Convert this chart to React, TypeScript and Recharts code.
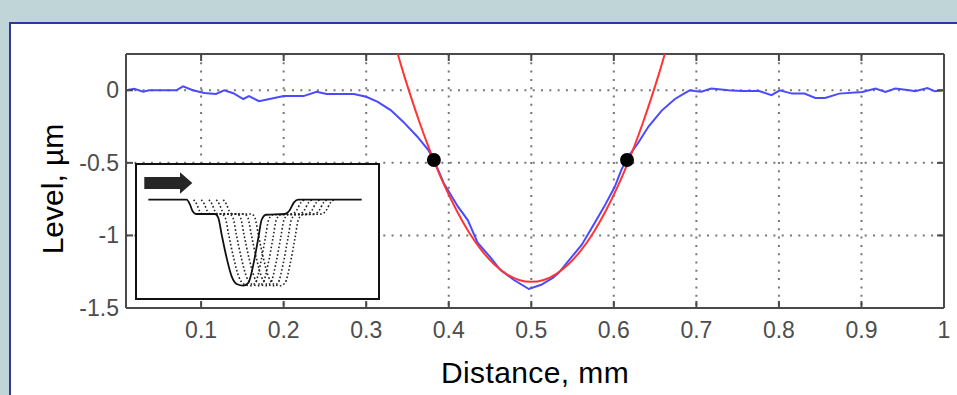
import React from "react";
import { ComposedChart, Line, Scatter, XAxis, YAxis, CartesianGrid, ReferenceLine, Label } from "recharts";

// measured surface profile (blue)
const profileDistance = [
  0.009, 0.019, 0.03, 0.037, 0.07, 0.078, 0.09, 0.104, 0.118, 0.128, 0.139, 0.151, 0.158, 0.17, 0.183,
  0.2, 0.224, 0.24, 0.252, 0.285, 0.3, 0.314, 0.33, 0.345, 0.362, 0.375, 0.382, 0.394, 0.411, 0.423,
  0.435, 0.451, 0.463, 0.479, 0.497, 0.512, 0.526, 0.533, 0.548, 0.561, 0.573, 0.588, 0.601, 0.609,
  0.617, 0.629, 0.642, 0.658, 0.674, 0.686, 0.692, 0.698, 0.706, 0.718, 0.739, 0.755, 0.776, 0.791,
  0.801, 0.816, 0.831, 0.844, 0.856, 0.873, 0.901, 0.917, 0.929, 0.941, 0.958, 0.965, 0.98, 0.989, 1.0,
];
const profileLevel = [
  0.0, 0.01, -0.01, 0.0, 0.0, 0.027, 0.0, -0.018, -0.025, 0.0, -0.02, -0.06, -0.04, -0.075, -0.06,
  -0.04, -0.04, -0.01, -0.025, -0.025, -0.045, -0.08, -0.138, -0.218, -0.32, -0.41, -0.48, -0.64, -0.8, -0.894,
  -1.05, -1.155, -1.24, -1.307, -1.369, -1.34, -1.293, -1.26, -1.155, -1.066, -0.95, -0.805, -0.667, -0.55,
  -0.46, -0.367, -0.25, -0.14, -0.06, -0.02, 0.0, -0.005, -0.01, 0.012, 0.0, -0.005, -0.005, -0.034,
  0.0, -0.023, -0.023, -0.053, -0.053, -0.023, -0.012, 0.012, -0.012, 0.012, 0.0, -0.007, 0.016, -0.007, 0.0,
];

// parabolic fit (red)
const fitDistance = [
  0.336, 0.345, 0.355, 0.365, 0.375, 0.385, 0.395, 0.41, 0.425, 0.44, 0.455, 0.47, 0.485, 0.5,
  0.515, 0.53, 0.545, 0.56, 0.575, 0.59, 0.605, 0.615, 0.625, 0.635, 0.645, 0.655, 0.664,
];
const fitLevel = [
  0.294, 0.12, -0.059, -0.227, -0.383, -0.527, -0.659, -0.834, -0.983, -1.104, -1.199, -1.266, -1.307, -1.32,
  -1.307, -1.266, -1.199, -1.104, -0.983, -0.834, -0.659, -0.527, -0.383, -0.227, -0.059, 0.12, 0.294,
];

// half-depth markers
const markerDistance = [0.382, 0.616];
const markerLevel = [-0.48, -0.48];

const xTicks = [0.1, 0.2, 0.3, 0.4, 0.5, 0.6, 0.7, 0.8, 0.9, 1];
const yTicks = [0, -0.5, -1, -1.5];

// inset sketch: one tool pass, then the same shape shifted along
const insetU = [40, 155, 165, 173, 183, 240, 250, 260, 275, 290, 305, 325, 340, 355, 370, 380, 393, 450, 463, 477, 490, 680];
const insetV = [0, 0, -0.35, -0.81, -1, -1, -1.28, -2.44, -4.07, -5.35, -5.88, -6, -5.81, -4.53, -2.67, -1.4, -1.05, -1, -0.77, -0.19, 0, 0];
const insetShifts = [21, 44, 67, 89, 110];

const profileData = profileDistance.map((x, i) => ({ x, y: profileLevel[i] }));
const fitData = fitDistance.map((x, i) => ({ x, y: fitLevel[i] }));
const markerData = markerDistance.map((x, i) => ({ x, y: markerLevel[i] }));
const insetSolid = insetU.map((u, i) => ({ u, v: insetV[i] }));
const insetDotted = insetShifts.map((s) =>
  insetU.slice(1, 21).map((u, i) => ({ u: u + s, v: insetV[i + 1] }))
);

const FONT = '"Liberation Sans", Arial, Helvetica, sans-serif';
const PLOT_TOP = 54;
const PLOT_BOTTOM = 308;
const PLOT_LEFT = 126;
const PLOT_RIGHT = 944;
const TICK_LEN = 7;
const AXIS_COLOR = "#4a4a4a";

const XTick = (props: any) => {
  const { x, payload } = props;
  return (
    <g>
      <line x1={x} x2={x} y1={PLOT_BOTTOM} y2={PLOT_BOTTOM - TICK_LEN} stroke={AXIS_COLOR} strokeWidth={2} />
      <line x1={x} x2={x} y1={PLOT_TOP} y2={PLOT_TOP + TICK_LEN} stroke={AXIS_COLOR} strokeWidth={2} />
      <text x={x} y={338} textAnchor="middle" fontSize={23} fill="#4d4d4d" fontFamily={FONT}>
        {String(payload.value)}
      </text>
    </g>
  );
};

const YTick = (props: any) => {
  const { y, payload } = props;
  return (
    <g>
      <line x1={PLOT_LEFT} x2={PLOT_LEFT + TICK_LEN} y1={y} y2={y} stroke={AXIS_COLOR} strokeWidth={2} />
      <line x1={PLOT_RIGHT} x2={PLOT_RIGHT - TICK_LEN} y1={y} y2={y} stroke={AXIS_COLOR} strokeWidth={2} />
      <text x={119} y={y + 8} textAnchor="end" fontSize={23} fill="#4d4d4d" fontFamily={FONT}>
        {String(payload.value)}
      </text>
    </g>
  );
};

const Marker = (props: any) => <circle cx={props.cx} cy={props.cy} r={7} fill="#000" />;

export default function App() {
  return (
    <div style={{ position: "absolute", left: 0, top: 0, width: 957, height: 395, background: "#bfd5d7", overflow: "hidden", fontFamily: FONT }}>
      <div
        style={{
          position: "absolute", left: 9, top: 22, right: 0, bottom: 0, background: "#fff",
          borderTop: "2px solid #34349c", borderLeft: "2px solid #34349c", boxSizing: "border-box",
        }}
      />
      <div style={{ position: "absolute", left: 0, top: 0 }}>
        <ComposedChart width={957} height={395} margin={{ top: PLOT_TOP, right: 957 - PLOT_RIGHT, bottom: 0, left: 0 }}>
          <CartesianGrid stroke="#777" strokeWidth={2} strokeDasharray="2 6.3" />
          <XAxis
            type="number"
            dataKey="x"
            domain={[0.009, 1]}
            ticks={xTicks}
            interval={0}
            allowDataOverflow
            height={395 - PLOT_BOTTOM}
            tickLine={false}
            axisLine={{ stroke: AXIS_COLOR, strokeWidth: 2 }}
            tick={<XTick />}
          >
            <Label value="Distance, mm" position="insideBottom" offset={12} fontSize={30} fill="#000" fontFamily={FONT} letterSpacing={0.4} />
          </XAxis>
          <YAxis
            type="number"
            dataKey="y"
            domain={[-1.5, 0.25]}
            ticks={yTicks}
            interval={0}
            allowDataOverflow
            width={PLOT_LEFT}
            tickLine={false}
            axisLine={{ stroke: AXIS_COLOR, strokeWidth: 2 }}
            tick={<YTick />}
          >
            <Label
              content={() => (
                <text x={63} y={189} transform="rotate(-90 63 189)" textAnchor="middle" fontSize={30} fill="#000" fontFamily={FONT}>
                  Level, µm
                </text>
              )}
            />
          </YAxis>
          <ReferenceLine y={0.25} stroke={AXIS_COLOR} strokeWidth={2} />
          <ReferenceLine x={1} stroke={AXIS_COLOR} strokeWidth={2} />
          <Line data={profileData} dataKey="y" type="linear" stroke="#4a4aff" strokeWidth={2} dot={false} activeDot={false} isAnimationActive={false} />
          <Line data={fitData} dataKey="y" type="monotone" stroke="#ff3535" strokeWidth={2} dot={false} activeDot={false} isAnimationActive={false} />
          <Scatter data={markerData} dataKey="y" shape={<Marker />} isAnimationActive={false} />
        </ComposedChart>
      </div>

      {/* inset: tool passes */}
      <div
        style={{
          position: "absolute", left: 135, top: 163, width: 245, height: 137, background: "#fff",
          border: "2px solid #111", boxSizing: "border-box",
        }}
      >
        <ComposedChart width={241} height={133} margin={{ top: 0, right: 0, bottom: 0, left: 0 }}>
          <XAxis type="number" dataKey="u" domain={[6, 729]} allowDataOverflow hide />
          <YAxis type="number" dataKey="v" domain={[-6.86, 2.42]} allowDataOverflow hide />
          {insetDotted.map((d, i) => (
            <Line
              key={i}
              data={d}
              dataKey="v"
              type="monotone"
              stroke="#222"
              strokeWidth={1.6}
              strokeDasharray="1.6 2.2"
              dot={false}
              activeDot={false}
              isAnimationActive={false}
            />
          ))}
          <Line data={insetSolid} dataKey="v" type="monotone" stroke="#111" strokeWidth={1.8} dot={false} activeDot={false} isAnimationActive={false} />
        </ComposedChart>
        <svg width={60} height={36} style={{ position: "absolute", left: 0, top: 0 }}>
          <polygon points="7.3,12 43,12 43,7.3 55.3,18 43,28.7 43,24 7.3,24" fill="#262626" />
        </svg>
      </div>
    </div>
  );
}
